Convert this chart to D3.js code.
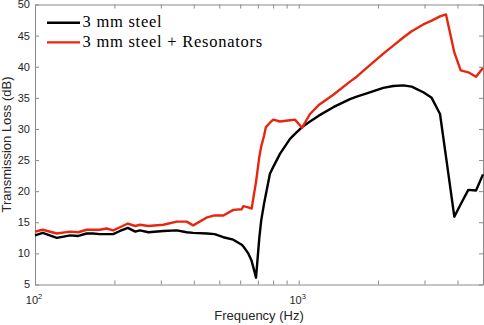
<!DOCTYPE html>
<html>
<head>
<meta charset="utf-8">
<script src="https://cdn.jsdelivr.net/npm/d3@7"></script>
<style>
  body { margin: 0; background: #fff; }
  .axis path, .axis line { stroke: #8a8a8a; }
</style>
</head>
<body>
<div id="chart-area"></div>
<script>

// Data
var freq = [100, 107, 121, 136, 146, 157, 166, 176, 187, 198, 210, 225, 240, 250, 269, 307, 345, 376, 398,
            450, 480, 518, 565, 608, 617, 644, 663, 689, 709, 721, 739, 751, 778, 801, 849, 927, 968, 1030,
            1104, 1188, 1353, 1565, 1660, 1811, 2094, 2284, 2493, 2682, 2968, 3194, 3435, 3620, 3892, 4115,
            4398, 4704, 5000];

var steel = [12.9, 13.3, 12.5, 12.9, 12.8, 13.2, 13.2, 13.1, 13.1, 13.1, 13.6, 14.1, 13.5, 13.7, 13.4, 13.6, 13.7, 13.4, 13.3,
             13.2, 13.1, 12.6, 12.2, 11.4, 11.1, 10.0, 8.8, 6.1, 12.5, 15.3, 18.0, 19.5, 22.8, 23.9, 26.0, 28.4, 29.2, 30.3,
             31.2, 32.1, 33.5, 34.8, 35.2, 35.7, 36.6, 36.9, 37.0, 36.8, 35.9, 35.0, 32.4, 25.5, 15.9, 17.9,
             20.2, 20.1, 22.7];

var resonators = [13.5, 13.8, 13.2, 13.5, 13.4, 13.8, 13.8, 13.8, 14.0, 13.7, 14.2, 14.8, 14.4, 14.6, 14.4, 14.6, 15.1, 15.1, 14.5,
                  15.8, 16.1, 16.1, 17.0, 17.1, 17.6, 17.4, 17.2, 21.5, 25.5, 27.2, 28.9, 30.3, 31.0, 31.5, 31.2, 31.4, 31.5, 30.2,
                  32.4, 33.8, 35.5, 37.6, 38.4, 39.8, 42.1, 43.4, 44.7, 45.7, 46.8, 47.4, 48.1, 48.4, 42.3, 39.4,
                  39.1, 38.4, 39.8];

var seriesNames = ["3 mm steel", "3 mm steel + Resonators"];
var seriesColors = ["#000000", "#e8260f"];

var yTicks = [5, 10, 15, 20, 25, 30, 35, 40, 45, 50];
var xMajor = [100, 1000];
var xMinor = [200, 300, 400, 500, 600, 700, 800, 900, 2000, 3000, 4000];
var xExponents = ["2", "3"];

var margin = {top: 4.5, right: 1, bottom: 40.5, left: 35};
var width = 484 - margin.left - margin.right,
    height = 325 - margin.top - margin.bottom;

var svg = d3.select("#chart-area").append("svg")
    .attr("width", width + margin.left + margin.right)
    .attr("height", height + margin.top + margin.bottom)
  .append("g")
    .attr("transform", "translate(" + margin.left + "," + margin.top + ")");

// Scales
var x = d3.scaleLog()
    .domain([100, 5000])
    .range([0, width]);

var y = d3.scaleLinear()
    .domain([5, 50])
    .range([height, 0]);

// Axes, ticks pointing inside, box on
var xTickVals = xMajor.concat(xMinor);

svg.append("g")
    .attr("class", "axis")
    .attr("transform", "translate(0," + height + ")")
    .call(d3.axisBottom(x).tickValues(xTickVals).tickSizeInner(-4).tickSizeOuter(0).tickFormat(""));

svg.append("g")
    .attr("class", "axis")
    .call(d3.axisTop(x).tickValues(xTickVals).tickSizeInner(-4).tickSizeOuter(0).tickFormat(""));

svg.append("g")
    .attr("class", "axis")
    .call(d3.axisLeft(y).tickValues(yTicks).tickSizeInner(-4).tickSizeOuter(0).tickFormat(""));

svg.append("g")
    .attr("class", "axis")
    .attr("transform", "translate(" + width + ",0)")
    .call(d3.axisRight(y).tickValues(yTicks).tickSizeInner(-4).tickSizeOuter(0).tickFormat(""));

// y tick labels
svg.selectAll(".ylab")
    .data(yTicks)
  .enter().append("text")
    .attr("class", "ylab")
    .attr("x", -5)
    .attr("y", function(d) { return y(d); })
    .attr("dy", "0.36em")
    .attr("text-anchor", "end")
    .attr("font-family", "Liberation Sans, Arial, sans-serif")
    .attr("font-size", 11)
    .attr("fill", "#262626")
    .text(function(d) { return d; });

// x tick labels 10^n
var xl = svg.selectAll(".xlab")
    .data(xMajor)
  .enter().append("text")
    .attr("class", "xlab")
    .attr("x", function(d) { return x(d) - 1; })
    .attr("y", height + 19.5)
    .attr("text-anchor", "middle")
    .attr("font-family", "Liberation Sans, Arial, sans-serif")
    .attr("font-size", 11)
    .attr("fill", "#262626");
xl.append("tspan").text("10");
xl.append("tspan")
    .attr("font-size", 7.5)
    .attr("dy", -5)
    .text(function(d, i) { return xExponents[i]; });

// axis titles
svg.append("text")
    .attr("x", width / 2)
    .attr("y", height + 35)
    .attr("text-anchor", "middle")
    .attr("font-family", "Liberation Sans, Arial, sans-serif")
    .attr("font-size", 13)
    .attr("fill", "#262626")
    .text("Frequency (Hz)");

svg.append("text")
    .attr("transform", "translate(" + (-24) + "," + (height / 2) + ") rotate(-90)")
    .attr("text-anchor", "middle")
    .attr("font-family", "Liberation Sans, Arial, sans-serif")
    .attr("font-size", 13)
    .attr("fill", "#262626")
    .text("Transmission Loss (dB)");

// Lines
var line = d3.line()
    .x(function(d) { return x(d[0]); })
    .y(function(d) { return y(d[1]); });

var series = [steel, resonators];

series.forEach(function(vals, i) {
  svg.append("path")
      .datum(freq.map(function(f, j) { return [f, vals[j]]; }))
      .attr("fill", "none")
      .attr("stroke", seriesColors[i])
      .attr("stroke-width", 2.4)
      .attr("stroke-linejoin", "round")
      .attr("d", line);
});

// Legend (no box)
var legend = svg.selectAll(".legend")
    .data(seriesNames)
  .enter().append("g")
    .attr("class", "legend")
    .attr("transform", function(d, i) { return "translate(12," + (18.3 + i * 19.6) + ")"; });

legend.append("line")
    .attr("x1", 0).attr("x2", 33)
    .attr("y1", 0).attr("y2", 0)
    .attr("stroke", function(d, i) { return seriesColors[i]; })
    .attr("stroke-width", 2.4);

legend.append("text")
    .attr("x", 35.5)
    .attr("y", 4.5)
    .attr("font-family", "Liberation Serif, Times New Roman, serif")
    .attr("font-size", 16.5)
    .attr("letter-spacing", 0.75)
    .attr("fill", "#000")
    .text(function(d) { return d; });

</script>
</body>
</html>
